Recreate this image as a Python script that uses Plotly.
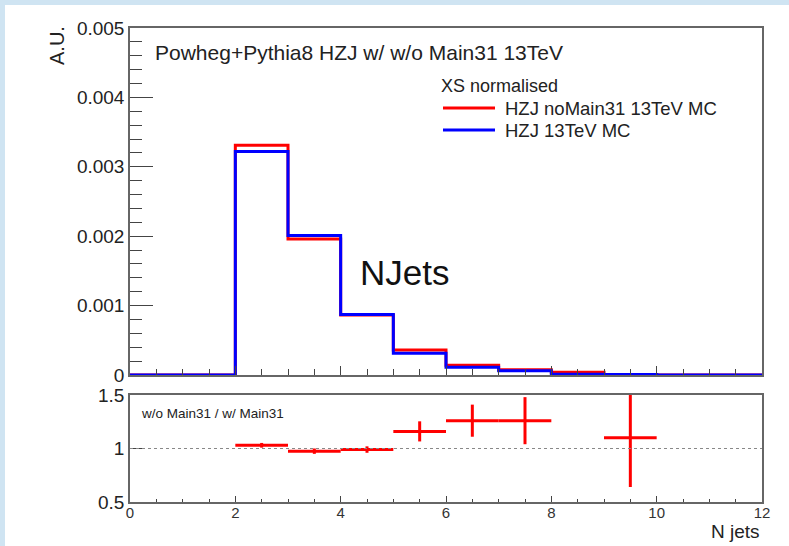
import plotly.graph_objects as go

# ---------------- data ----------------
bin_edges = [0, 1, 2, 3, 4, 5, 6, 7, 8, 9, 10, 11, 12]
# normalised cross sections per N-jet bin (A.U.)
hzj_nomain31 = [0, 0, 0.00331, 0.00196, 0.000863, 0.000362, 0.000140, 0.000075, 0.000040, 0.000006, 0, 0]
hzj_main31 = [0, 0, 0.00322, 0.00201, 0.000872, 0.000315, 0.000111, 0.000060, 0.000010, 0.0000055, 0, 0]

ratio_x = [2.5, 3.5, 4.5, 5.5, 6.5, 7.5, 9.5]
ratio_y = [1.03, 0.975, 0.99, 1.16, 1.26, 1.26, 1.10]
ratio_err = [0.022, 0.025, 0.03, 0.094, 0.15, 0.22, 0.46]
ratio_xerr = [0.5, 0.5, 0.5, 0.5, 0.5, 0.5, 0.5]

main_yticks = [0, 0.001, 0.002, 0.003, 0.004, 0.005]
main_yticktext = ["0", "0.001", "0.002", "0.003", "0.004", "0.005"]
ratio_yticks = [0.5, 1, 1.5]
ratio_yticktext = ["0.5", "1", "1.5"]
xticks = [0, 2, 4, 6, 8, 10, 12]
ratio_reference = 1.0

series_names = ["HZJ noMain31 13TeV MC", "HZJ 13TeV MC"]
series_colors = ["#ff0000", "#0000ff"]

# ---------------- geometry helpers ----------------
W, H = 789, 546
L, R, T, B = 130, 762, 28, 502


def fx(px):
    return (px - L) / (R - L)


def fy(py):
    return (B - py) / (B - T)


FONT = "Liberation Sans, Arial, Helvetica, sans-serif"
TXT = "#222222"
FRAME = "#666666"

fig = go.Figure()


def step_xy(vals):
    return bin_edges, list(vals) + [vals[-1]]


for name, vals, col in [(series_names[0], hzj_nomain31, series_colors[0]),
                        (series_names[1], hzj_main31, series_colors[1])]:
    xs, ys = step_xy(vals)
    fig.add_trace(go.Scatter(x=xs, y=ys, mode="lines", line=dict(color=col, width=3, shape="hv"),
                             name=name, showlegend=False, xaxis="x", yaxis="y"))

fig.add_trace(go.Scatter(
    x=ratio_x, y=ratio_y, mode="markers", marker=dict(size=1, color="#ff0000"),
    error_x=dict(type="data", array=ratio_xerr, color="#ff0000", thickness=3, width=0),
    error_y=dict(type="data", array=ratio_err, color="#ff0000", thickness=3, width=0),
    showlegend=False, xaxis="x2", yaxis="y2"))

main_dom = [fy(375), 1.0]
ratio_dom = [0.0, fy(395)]

axis_common = dict(showgrid=False, zeroline=False, showline=True, linecolor=FRAME, linewidth=1.5,
                   mirror=True, ticks="inside", tickcolor="#444444",
                   tickfont=dict(family=FONT, size=19, color=TXT))

fig.update_layout(
    width=W, height=H,
    margin=dict(l=L, r=W - R, t=T, b=H - B, pad=0),
    paper_bgcolor="white", plot_bgcolor="white",
    showlegend=False,
    xaxis=dict(axis_common, range=[0, 12], domain=[0, 1], anchor="y", showticklabels=False,
               tickvals=xticks, ticklen=9,
               minor=dict(dtick=0.5, ticklen=6, ticks="inside", tickcolor="#444444")),
    yaxis=dict(axis_common, range=[0, 0.005], domain=main_dom, anchor="x",
               tickvals=main_yticks, ticktext=main_yticktext, ticklen=23,
               minor=dict(dtick=0.0002, ticklen=12, ticks="inside", tickcolor="#444444")),
    xaxis2=dict(axis_common, range=[0, 12], domain=[0, 1], anchor="y2", matches="x",
                tickvals=xticks, ticktext=[str(v) for v in xticks], ticklen=6,
                ticklabelstandoff=-4,
                tickfont=dict(family=FONT, size=15, color="#333333"),
                minor=dict(dtick=0.5, ticklen=3, ticks="inside", tickcolor="#444444")),
    yaxis2=dict(axis_common, range=[0.5, 1.5], domain=ratio_dom, anchor="x2",
                tickvals=ratio_yticks, ticktext=ratio_yticktext, ticklen=15,
                tickfont=dict(family=FONT, size=19, color=TXT)),
)

shapes = []
# light blue canvas strips (top and left)
BLUE_BG = "#cfe4f2"
shapes.append(dict(type="rect", xref="paper", yref="paper", x0=fx(0), x1=fx(W), y0=fy(5), y1=fy(0),
                   fillcolor=BLUE_BG, line=dict(width=0), layer="below"))
shapes.append(dict(type="rect", xref="paper", yref="paper", x0=fx(0), x1=fx(5), y0=fy(H), y1=fy(0),
                   fillcolor=BLUE_BG, line=dict(width=0), layer="below"))
# dotted reference line in the ratio pad
shapes.append(dict(type="line", xref="x2", yref="y2", x0=0, x1=12, y0=ratio_reference, y1=ratio_reference,
                   line=dict(color="#888888", width=1, dash="dot")))
# legend line samples
for i, col in enumerate(series_colors):
    yy = fy(108 + 22 * i)
    shapes.append(dict(type="line", xref="paper", yref="paper", x0=fx(443), x1=fx(495), y0=yy, y1=yy,
                       line=dict(color=col, width=3)))
fig.update_layout(shapes=shapes)

ann = []
ann.append(dict(text="Powheg+Pythia8 HZJ w/ w/o Main31 13TeV", xref="paper", yref="paper",
                x=fx(153), y=fy(52), xanchor="left", yanchor="middle", showarrow=False,
                font=dict(family=FONT, size=21, color=TXT)))
ann.append(dict(text="XS normalised", xref="paper", yref="paper",
                x=fx(439), y=fy(86), xanchor="left", yanchor="middle", showarrow=False,
                font=dict(family=FONT, size=18, color=TXT)))
for i, name in enumerate(series_names):
    ann.append(dict(text=name, xref="paper", yref="paper",
                    x=fx(503), y=fy(108 + 22 * i), xanchor="left", yanchor="middle", showarrow=False,
                    font=dict(family=FONT, size=18.5, color=TXT)))
ann.append(dict(text="NJets", xref="paper", yref="paper",
                x=fx(358), y=fy(272), xanchor="left", yanchor="middle", showarrow=False,
                font=dict(family=FONT, size=35, color="#111111")))
ann.append(dict(text="w/o Main31 / w/ Main31", xref="paper", yref="paper",
                x=fx(139), y=fy(413), xanchor="left", yanchor="middle", showarrow=False,
                font=dict(family=FONT, size=13.5, color=TXT)))
ann.append(dict(text="A.U.", xref="paper", yref="paper", textangle=-90,
                x=fx(57), y=fy(46), xanchor="center", yanchor="middle", showarrow=False,
                font=dict(family=FONT, size=20, color=TXT)))
ann.append(dict(text="N jets", xref="paper", yref="paper",
                x=fx(762), y=fy(531), xanchor="right", yanchor="middle", showarrow=False,
                font=dict(family=FONT, size=19, color=TXT)))
fig.update_layout(annotations=ann)

fig.write_html("out.html")
